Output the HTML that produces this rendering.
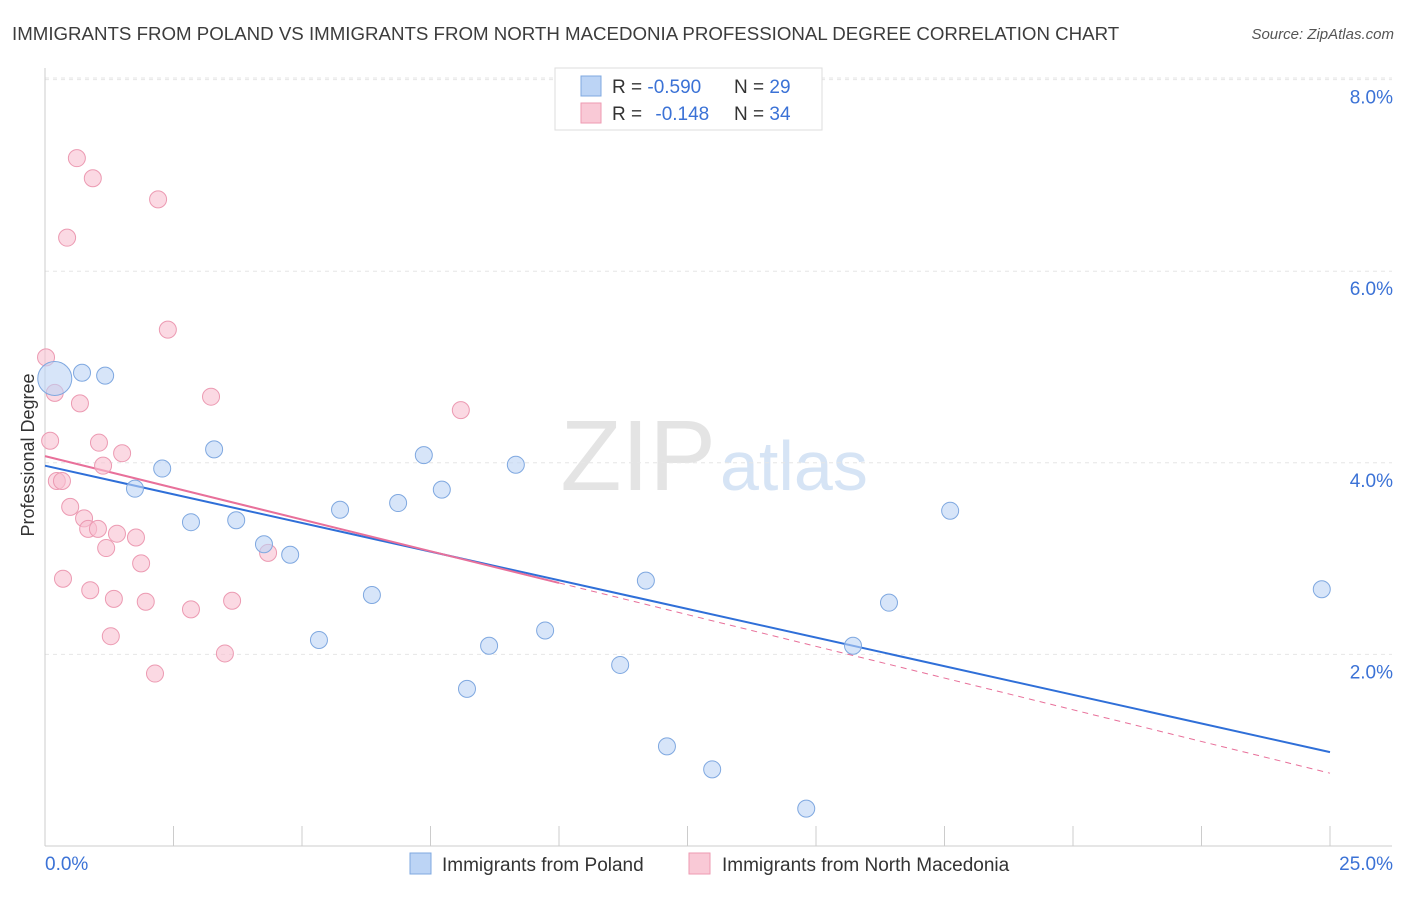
<!DOCTYPE html>
<html><head><meta charset="utf-8"><style>
body{margin:0;background:#fff;font-family:"Liberation Sans",sans-serif}
svg text{font-family:"Liberation Sans",sans-serif}
</style></head><body>
<svg id="c" width="1406" height="892">
<text x="12" y="40" font-size="18.7" fill="#3c3c3c">IMMIGRANTS FROM POLAND VS IMMIGRANTS FROM NORTH MACEDONIA PROFESSIONAL DEGREE CORRELATION CHART</text>
<text x="1394" y="39" font-size="15" fill="#555" text-anchor="end" font-style="italic">Source: ZipAtlas.com</text>
<text x="716" y="490" font-size="100" fill="#e4e4e4" text-anchor="end" font-family="Liberation Serif">ZIP</text>
<text x="720" y="490" font-size="70" fill="#d6e4f5">atlas</text>
<g id="grid"></g><g id="axes"></g><g id="lines"></g><g id="pts"></g>
<text transform="translate(34,455) rotate(-90)" font-size="18" fill="#333" text-anchor="middle">Professional Degree</text>
<g>
<rect x="555" y="68" width="267" height="62" fill="#fff" stroke="#ddd"/>
<rect x="581" y="76" width="20" height="20" fill="#bcd4f5" stroke="#7fa8e0"/>
<rect x="581" y="103" width="20" height="20" fill="#f9c9d6" stroke="#ee9ab2"/>
<text x="612" y="93" font-size="19" fill="#333">R = <tspan fill="#3b72d6">-0.590</tspan><tspan x="734">N = </tspan><tspan fill="#3b72d6">29</tspan></text>
<text x="612" y="120" font-size="19" fill="#333">R = <tspan fill="#3b72d6" dx="8">-0.148</tspan><tspan x="734">N = </tspan><tspan fill="#3b72d6">34</tspan></text>
</g>
<g>
<rect x="410" y="853" width="21" height="21" fill="#bcd4f5" stroke="#7fa8e0"/>
<text x="442" y="871" font-size="19" fill="#333">Immigrants from Poland</text>
<rect x="689" y="853" width="21" height="21" fill="#f9c9d6" stroke="#ee9ab2"/>
<text x="722" y="871" font-size="19" fill="#333">Immigrants from North Macedonia</text>
</g>
</svg>
<script>
const yTicks=[2,4,6,8];
const yTickLabels=["2.0%","4.0%","6.0%","8.0%"];
const xTicks=[0,2.5,5,7.5,10,12.5,15,17.5,20,22.5,25];
const polandX=[0.19,0.72,1.17,2.28,1.75,3.29,2.84,3.72,4.26,4.77,5.74,5.33,6.36,6.87,7.37,7.72,8.21,8.64,9.16,9.73,11.19,11.69,12.10,12.98,14.81,15.72,16.42,17.61,24.84];
const polandY=[4.88,4.94,4.91,3.94,3.73,4.14,3.38,3.40,3.15,3.04,3.51,2.15,2.62,3.58,4.08,3.72,1.64,2.09,3.98,2.25,1.89,2.77,1.04,0.80,0.39,2.09,2.54,3.50,2.68];
const macX=[0.02,0.62,0.93,2.20,0.43,2.39,0.19,0.68,3.23,8.09,0.10,1.05,1.50,1.13,0.23,0.33,0.49,0.76,0.84,1.03,1.40,1.77,1.19,1.87,4.34,0.35,0.88,1.34,1.96,3.64,2.84,1.28,3.50,2.14];
const macY=[5.10,7.18,6.97,6.75,6.35,5.39,4.73,4.62,4.69,4.55,4.23,4.21,4.10,3.97,3.81,3.81,3.54,3.42,3.31,3.31,3.26,3.22,3.11,2.95,3.06,2.79,2.67,2.58,2.55,2.56,2.47,2.19,2.01,1.80];
const polandTrend=[3.97,0.98];
const macTrend=[4.07,0.76];
const NS="http://www.w3.org/2000/svg";
const X=v=>45+v*51.4, Y=v=>846-v*95.8;
function mk(p,t,a){const e=document.createElementNS(NS,t);for(const k in a)e.setAttribute(k,a[k]);document.getElementById(p).appendChild(e);return e;}
yTicks.forEach((t,i)=>{
 const g=mk('grid','line',{x1:45,x2:1392,y1:Y(t),y2:Y(t),stroke:'#e6e6e6','stroke-dasharray':'4,4'});
 
 
 const l=mk('grid','text',{x:1393,y:Y(t)+24,'font-size':19,fill:'#3b72d6','text-anchor':'end'});
 l.textContent=yTickLabels[i];
 
 
});
const topGrid=mk('grid','line',{x1:45,x2:1392,y1:78,y2:78,stroke:'#e6e6e6','stroke-dasharray':'4,4'});


const ya=mk('axes','line',{x1:45,x2:45,y1:68,y2:846,stroke:'#ccc'});


const xa=mk('axes','line',{x1:45,x2:1392,y1:846,y2:846,stroke:'#ccc'});


xTicks.forEach(t=>{const e=mk('axes','line',{x1:X(t),x2:X(t),y1:826,y2:846,stroke:'#ccc'});
 
 });
const xl0=mk('axes','text',{x:45,y:870,'font-size':19,fill:'#3b72d6'});xl0.textContent="0.0%";


const xl1=mk('axes','text',{x:1393,y:870,'font-size':19,fill:'#3b72d6','text-anchor':'end'});xl1.textContent="25.0%";


function pts(xs,ys,fill,stroke,name){xs.forEach((x,i)=>{const r=(name==='poland-point'&&i===0)?17:8.5;
 const c=mk('pts','circle',{cx:X(x),cy:Y(ys[i]),r:r,fill:fill,stroke:stroke,'stroke-width':1,'fill-opacity':0.6});
 
 });}
pts(macX,macY,'#f9c0d0','#ec9ab2','macedonia-point');
pts(polandX,polandY,'#bcd4f5','#7fa8e0','poland-point');
const pl=mk('lines','line',{x1:X(0),y1:Y(polandTrend[0]),x2:X(25),y2:Y(polandTrend[1]),stroke:'#2f6fd8','stroke-width':2});


const mf=v=>macTrend[0]+(macTrend[1]-macTrend[0])*v/25;
const ms=mk('lines','line',{x1:X(0),y1:Y(mf(0)),x2:X(10),y2:Y(mf(10)),stroke:'#e8709a','stroke-width':2});


const md=mk('lines','line',{x1:X(10),y1:Y(mf(10)),x2:X(25),y2:Y(mf(25)),stroke:'#e8709a','stroke-width':1,'stroke-dasharray':'6,5'});


</script>
</body></html>
